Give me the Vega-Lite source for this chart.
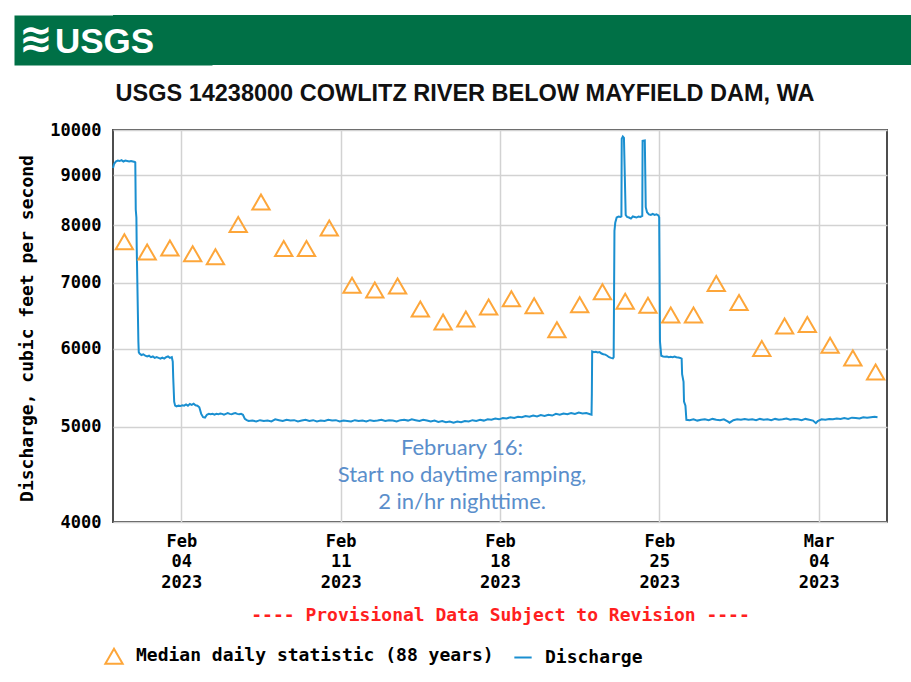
{
  "$schema": "https://vega.github.io/schema/vega-lite/v6.json",
  "background": "white",
  "padding": {"left": 16, "top": 15, "right": 0, "bottom": 0},
  "spacing": 15,
  "config": {
    "font": "DejaVu Sans Mono",
    "axis": {
      "labelFont": "DejaVu Sans Mono",
      "labelFontWeight": "bold",
      "labelColor": "#000000",
      "titleFont": "DejaVu Sans Mono",
      "titleFontWeight": "bold",
      "titleColor": "#000000",
      "gridColor": "#d2d2d2",
      "gridWidth": 1.5,
      "ticks": false,
      "domain": false,
      "labelFlush": false,
      "labelOverlap": false,
      "labelBound": false
    }
  },
  "datasets": {
    "q": [
      {"t": "2023-02-01T00:00", "v": 9150}, {"t": "2023-02-01T01:00", "v": 9230}, {"t": "2023-02-01T03:00", "v": 9290},
      {"t": "2023-02-01T05:00", "v": 9310}, {"t": "2023-02-01T07:00", "v": 9300}, {"t": "2023-02-01T09:00", "v": 9320},
      {"t": "2023-02-01T11:00", "v": 9290}, {"t": "2023-02-01T13:00", "v": 9310}, {"t": "2023-02-01T15:00", "v": 9300},
      {"t": "2023-02-01T17:00", "v": 9290}, {"t": "2023-02-01T19:00", "v": 9300}, {"t": "2023-02-01T21:00", "v": 9290},
      {"t": "2023-02-01T23:00", "v": 9280}, {"t": "2023-02-01T23:30", "v": 9270},
      {"t": "2023-02-02T00:00", "v": 8300}, {"t": "2023-02-02T00:40", "v": 8150}, {"t": "2023-02-02T01:00", "v": 7600},
      {"t": "2023-02-02T01:40", "v": 7000}, {"t": "2023-02-02T02:15", "v": 6500}, {"t": "2023-02-02T02:45", "v": 6100},
      {"t": "2023-02-02T03:10", "v": 5950}, {"t": "2023-02-02T04:00", "v": 5930}, {"t": "2023-02-02T06:00", "v": 5910},
      {"t": "2023-02-02T08:00", "v": 5920}, {"t": "2023-02-02T10:00", "v": 5900}, {"t": "2023-02-02T12:00", "v": 5890},
      {"t": "2023-02-02T14:00", "v": 5900}, {"t": "2023-02-02T16:00", "v": 5880}, {"t": "2023-02-02T18:00", "v": 5890},
      {"t": "2023-02-02T20:00", "v": 5870}, {"t": "2023-02-02T22:00", "v": 5880}, {"t": "2023-02-03T00:00", "v": 5870},
      {"t": "2023-02-03T02:00", "v": 5860}, {"t": "2023-02-03T04:00", "v": 5875}, {"t": "2023-02-03T06:00", "v": 5860},
      {"t": "2023-02-03T08:00", "v": 5880}, {"t": "2023-02-03T10:00", "v": 5890}, {"t": "2023-02-03T12:00", "v": 5870},
      {"t": "2023-02-03T14:00", "v": 5880}, {"t": "2023-02-03T15:00", "v": 5820}, {"t": "2023-02-03T15:30", "v": 5600},
      {"t": "2023-02-03T16:30", "v": 5300}, {"t": "2023-02-03T17:30", "v": 5250}, {"t": "2023-02-03T19:00", "v": 5240},
      {"t": "2023-02-03T21:00", "v": 5250}, {"t": "2023-02-03T23:00", "v": 5245}, {"t": "2023-02-04T01:00", "v": 5255},
      {"t": "2023-02-04T03:00", "v": 5250}, {"t": "2023-02-04T05:00", "v": 5265}, {"t": "2023-02-04T07:00", "v": 5250},
      {"t": "2023-02-04T09:00", "v": 5270}, {"t": "2023-02-04T11:00", "v": 5260}, {"t": "2023-02-04T13:00", "v": 5275},
      {"t": "2023-02-04T15:00", "v": 5255}, {"t": "2023-02-04T17:00", "v": 5250}, {"t": "2023-02-04T19:00", "v": 5230},
      {"t": "2023-02-04T21:00", "v": 5150}, {"t": "2023-02-04T23:00", "v": 5110}, {"t": "2023-02-05T01:00", "v": 5105},
      {"t": "2023-02-05T03:00", "v": 5140}, {"t": "2023-02-05T05:00", "v": 5150}, {"t": "2023-02-05T07:00", "v": 5145},
      {"t": "2023-02-05T09:00", "v": 5150}, {"t": "2023-02-05T11:00", "v": 5140}, {"t": "2023-02-05T13:00", "v": 5150},
      {"t": "2023-02-05T15:00", "v": 5145}, {"t": "2023-02-05T17:00", "v": 5155}, {"t": "2023-02-05T19:00", "v": 5150},
      {"t": "2023-02-05T21:00", "v": 5140}, {"t": "2023-02-05T23:00", "v": 5150}, {"t": "2023-02-06T01:00", "v": 5160},
      {"t": "2023-02-06T03:00", "v": 5150}, {"t": "2023-02-06T05:00", "v": 5145}, {"t": "2023-02-06T07:00", "v": 5155},
      {"t": "2023-02-06T09:00", "v": 5160}, {"t": "2023-02-06T11:00", "v": 5150}, {"t": "2023-02-06T13:00", "v": 5145},
      {"t": "2023-02-06T15:00", "v": 5150}, {"t": "2023-02-06T17:00", "v": 5140}, {"t": "2023-02-06T19:00", "v": 5090},
      {"t": "2023-02-06T21:00", "v": 5075}, {"t": "2023-02-06T23:00", "v": 5065}, {"t": "2023-02-07T03:00", "v": 5070},
      {"t": "2023-02-07T07:00", "v": 5060}, {"t": "2023-02-07T11:00", "v": 5075}, {"t": "2023-02-07T15:00", "v": 5065},
      {"t": "2023-02-07T19:00", "v": 5070}, {"t": "2023-02-07T23:00", "v": 5060}, {"t": "2023-02-08T03:00", "v": 5085},
      {"t": "2023-02-08T07:00", "v": 5075}, {"t": "2023-02-08T11:00", "v": 5065}, {"t": "2023-02-08T15:00", "v": 5080},
      {"t": "2023-02-08T19:00", "v": 5070}, {"t": "2023-02-08T23:00", "v": 5075}, {"t": "2023-02-09T03:00", "v": 5060},
      {"t": "2023-02-09T07:00", "v": 5070}, {"t": "2023-02-09T11:00", "v": 5080}, {"t": "2023-02-09T15:00", "v": 5065},
      {"t": "2023-02-09T19:00", "v": 5075}, {"t": "2023-02-09T23:00", "v": 5060}, {"t": "2023-02-10T03:00", "v": 5070},
      {"t": "2023-02-10T07:00", "v": 5065}, {"t": "2023-02-10T11:00", "v": 5080}, {"t": "2023-02-10T15:00", "v": 5070},
      {"t": "2023-02-10T19:00", "v": 5075}, {"t": "2023-02-10T23:00", "v": 5060}, {"t": "2023-02-11T03:00", "v": 5070},
      {"t": "2023-02-11T07:00", "v": 5065}, {"t": "2023-02-11T11:00", "v": 5060}, {"t": "2023-02-11T15:00", "v": 5075},
      {"t": "2023-02-11T19:00", "v": 5065}, {"t": "2023-02-11T23:00", "v": 5070}, {"t": "2023-02-12T03:00", "v": 5060},
      {"t": "2023-02-12T07:00", "v": 5075}, {"t": "2023-02-12T11:00", "v": 5065}, {"t": "2023-02-12T15:00", "v": 5070},
      {"t": "2023-02-12T19:00", "v": 5080}, {"t": "2023-02-12T23:00", "v": 5065}, {"t": "2023-02-13T03:00", "v": 5075},
      {"t": "2023-02-13T07:00", "v": 5070}, {"t": "2023-02-13T11:00", "v": 5060}, {"t": "2023-02-13T15:00", "v": 5075},
      {"t": "2023-02-13T19:00", "v": 5080}, {"t": "2023-02-13T23:00", "v": 5070}, {"t": "2023-02-14T03:00", "v": 5085},
      {"t": "2023-02-14T07:00", "v": 5075}, {"t": "2023-02-14T11:00", "v": 5065}, {"t": "2023-02-14T15:00", "v": 5080},
      {"t": "2023-02-14T19:00", "v": 5070}, {"t": "2023-02-14T23:00", "v": 5060}, {"t": "2023-02-15T03:00", "v": 5070},
      {"t": "2023-02-15T07:00", "v": 5055}, {"t": "2023-02-15T11:00", "v": 5065}, {"t": "2023-02-15T15:00", "v": 5050},
      {"t": "2023-02-15T19:00", "v": 5060}, {"t": "2023-02-15T23:00", "v": 5045}, {"t": "2023-02-16T03:00", "v": 5060},
      {"t": "2023-02-16T07:00", "v": 5050}, {"t": "2023-02-16T11:00", "v": 5065}, {"t": "2023-02-16T15:00", "v": 5060},
      {"t": "2023-02-16T19:00", "v": 5075}, {"t": "2023-02-16T23:00", "v": 5065}, {"t": "2023-02-17T03:00", "v": 5080},
      {"t": "2023-02-17T07:00", "v": 5070}, {"t": "2023-02-17T11:00", "v": 5085}, {"t": "2023-02-17T15:00", "v": 5080},
      {"t": "2023-02-17T19:00", "v": 5095}, {"t": "2023-02-17T23:00", "v": 5085}, {"t": "2023-02-18T03:00", "v": 5100},
      {"t": "2023-02-18T07:00", "v": 5095}, {"t": "2023-02-18T11:00", "v": 5110}, {"t": "2023-02-18T15:00", "v": 5100},
      {"t": "2023-02-18T19:00", "v": 5115}, {"t": "2023-02-18T23:00", "v": 5110}, {"t": "2023-02-19T03:00", "v": 5125},
      {"t": "2023-02-19T07:00", "v": 5115}, {"t": "2023-02-19T11:00", "v": 5130}, {"t": "2023-02-19T15:00", "v": 5120},
      {"t": "2023-02-19T19:00", "v": 5135}, {"t": "2023-02-19T23:00", "v": 5125}, {"t": "2023-02-20T03:00", "v": 5140},
      {"t": "2023-02-20T07:00", "v": 5130}, {"t": "2023-02-20T11:00", "v": 5150}, {"t": "2023-02-20T15:00", "v": 5140},
      {"t": "2023-02-20T19:00", "v": 5155}, {"t": "2023-02-20T23:00", "v": 5145}, {"t": "2023-02-21T03:00", "v": 5160},
      {"t": "2023-02-21T07:00", "v": 5150}, {"t": "2023-02-21T11:00", "v": 5165}, {"t": "2023-02-21T15:00", "v": 5155},
      {"t": "2023-02-21T19:00", "v": 5160}, {"t": "2023-02-21T23:00", "v": 5145}, {"t": "2023-02-22T00:30", "v": 5140},
      {"t": "2023-02-22T00:50", "v": 5400}, {"t": "2023-02-22T01:10", "v": 5960}, {"t": "2023-02-22T03:00", "v": 5950},
      {"t": "2023-02-22T05:00", "v": 5955}, {"t": "2023-02-22T07:00", "v": 5945}, {"t": "2023-02-22T09:00", "v": 5950},
      {"t": "2023-02-22T11:00", "v": 5930}, {"t": "2023-02-22T13:00", "v": 5920}, {"t": "2023-02-22T15:00", "v": 5915},
      {"t": "2023-02-22T17:00", "v": 5900}, {"t": "2023-02-22T19:00", "v": 5880}, {"t": "2023-02-22T21:00", "v": 5870},
      {"t": "2023-02-22T23:00", "v": 5865}, {"t": "2023-02-22T23:50", "v": 5880}, {"t": "2023-02-23T00:40", "v": 7900},
      {"t": "2023-02-23T01:30", "v": 8050}, {"t": "2023-02-23T03:00", "v": 8150}, {"t": "2023-02-23T05:00", "v": 8170},
      {"t": "2023-02-23T07:00", "v": 8160}, {"t": "2023-02-23T08:00", "v": 8170}, {"t": "2023-02-23T08:20", "v": 9800},
      {"t": "2023-02-23T09:30", "v": 9850}, {"t": "2023-02-23T10:40", "v": 9820}, {"t": "2023-02-23T11:20", "v": 9200},
      {"t": "2023-02-23T12:30", "v": 8200}, {"t": "2023-02-23T14:00", "v": 8160}, {"t": "2023-02-23T16:00", "v": 8150},
      {"t": "2023-02-23T18:00", "v": 8130}, {"t": "2023-02-23T20:00", "v": 8170}, {"t": "2023-02-23T22:00", "v": 8160},
      {"t": "2023-02-24T00:00", "v": 8150}, {"t": "2023-02-24T02:00", "v": 8170}, {"t": "2023-02-24T04:00", "v": 8160},
      {"t": "2023-02-24T06:00", "v": 8180}, {"t": "2023-02-24T06:20", "v": 9750}, {"t": "2023-02-24T08:40", "v": 9760},
      {"t": "2023-02-24T09:40", "v": 8350}, {"t": "2023-02-24T11:00", "v": 8250}, {"t": "2023-02-24T13:00", "v": 8210},
      {"t": "2023-02-24T15:00", "v": 8200}, {"t": "2023-02-24T17:00", "v": 8220}, {"t": "2023-02-24T19:00", "v": 8200},
      {"t": "2023-02-24T21:00", "v": 8210}, {"t": "2023-02-24T23:00", "v": 8190}, {"t": "2023-02-24T23:50", "v": 8150},
      {"t": "2023-02-25T00:40", "v": 6100}, {"t": "2023-02-25T02:00", "v": 5900}, {"t": "2023-02-25T04:00", "v": 5890},
      {"t": "2023-02-25T06:00", "v": 5885}, {"t": "2023-02-25T08:00", "v": 5890}, {"t": "2023-02-25T10:00", "v": 5880},
      {"t": "2023-02-25T12:00", "v": 5885}, {"t": "2023-02-25T14:00", "v": 5880}, {"t": "2023-02-25T16:00", "v": 5890},
      {"t": "2023-02-25T18:00", "v": 5880}, {"t": "2023-02-25T20:00", "v": 5875}, {"t": "2023-02-25T22:00", "v": 5870},
      {"t": "2023-02-25T23:30", "v": 5860}, {"t": "2023-02-26T00:00", "v": 5650}, {"t": "2023-02-26T01:30", "v": 5550},
      {"t": "2023-02-26T02:00", "v": 5300}, {"t": "2023-02-26T03:30", "v": 5250}, {"t": "2023-02-26T04:30", "v": 5080},
      {"t": "2023-02-26T08:00", "v": 5075}, {"t": "2023-02-26T12:00", "v": 5085}, {"t": "2023-02-26T16:00", "v": 5070},
      {"t": "2023-02-26T20:00", "v": 5080}, {"t": "2023-02-27T00:00", "v": 5085}, {"t": "2023-02-27T04:00", "v": 5075},
      {"t": "2023-02-27T08:00", "v": 5090}, {"t": "2023-02-27T12:00", "v": 5080}, {"t": "2023-02-27T16:00", "v": 5075},
      {"t": "2023-02-27T20:00", "v": 5085}, {"t": "2023-02-28T00:00", "v": 5060}, {"t": "2023-02-28T02:00", "v": 5045},
      {"t": "2023-02-28T06:00", "v": 5075}, {"t": "2023-02-28T10:00", "v": 5085}, {"t": "2023-02-28T14:00", "v": 5080},
      {"t": "2023-02-28T18:00", "v": 5090}, {"t": "2023-02-28T22:00", "v": 5080}, {"t": "2023-03-01T02:00", "v": 5085},
      {"t": "2023-03-01T06:00", "v": 5075}, {"t": "2023-03-01T10:00", "v": 5090}, {"t": "2023-03-01T14:00", "v": 5080},
      {"t": "2023-03-01T18:00", "v": 5085}, {"t": "2023-03-01T22:00", "v": 5075}, {"t": "2023-03-02T02:00", "v": 5090},
      {"t": "2023-03-02T06:00", "v": 5080}, {"t": "2023-03-02T10:00", "v": 5085}, {"t": "2023-03-02T14:00", "v": 5095},
      {"t": "2023-03-02T18:00", "v": 5080}, {"t": "2023-03-02T22:00", "v": 5090}, {"t": "2023-03-03T02:00", "v": 5085},
      {"t": "2023-03-03T06:00", "v": 5075}, {"t": "2023-03-03T10:00", "v": 5090}, {"t": "2023-03-03T14:00", "v": 5080},
      {"t": "2023-03-03T18:00", "v": 5070}, {"t": "2023-03-03T21:00", "v": 5040}, {"t": "2023-03-03T23:00", "v": 5065},
      {"t": "2023-03-04T03:00", "v": 5085}, {"t": "2023-03-04T07:00", "v": 5080}, {"t": "2023-03-04T11:00", "v": 5090},
      {"t": "2023-03-04T15:00", "v": 5085}, {"t": "2023-03-04T19:00", "v": 5095}, {"t": "2023-03-04T23:00", "v": 5090},
      {"t": "2023-03-05T03:00", "v": 5100}, {"t": "2023-03-05T07:00", "v": 5090}, {"t": "2023-03-05T11:00", "v": 5105},
      {"t": "2023-03-05T15:00", "v": 5100}, {"t": "2023-03-05T19:00", "v": 5095}, {"t": "2023-03-05T23:00", "v": 5110},
      {"t": "2023-03-06T03:00", "v": 5105}, {"t": "2023-03-06T07:00", "v": 5110}, {"t": "2023-03-06T11:00", "v": 5115},
      {"t": "2023-03-06T14:00", "v": 5110}
    ],
    "med": [
      {"t": "2023-02-01T12:00", "v": 7700}, {"t": "2023-02-02T12:00", "v": 7520}, {"t": "2023-02-03T12:00", "v": 7590},
      {"t": "2023-02-04T12:00", "v": 7490}, {"t": "2023-02-05T12:00", "v": 7435}, {"t": "2023-02-06T12:00", "v": 8020},
      {"t": "2023-02-07T12:00", "v": 8450}, {"t": "2023-02-08T12:00", "v": 7580}, {"t": "2023-02-09T12:00", "v": 7580},
      {"t": "2023-02-10T12:00", "v": 7955}, {"t": "2023-02-11T12:00", "v": 6955}, {"t": "2023-02-12T12:00", "v": 6880},
      {"t": "2023-02-13T12:00", "v": 6945}, {"t": "2023-02-14T12:00", "v": 6580}, {"t": "2023-02-15T12:00", "v": 6385},
      {"t": "2023-02-16T12:00", "v": 6430}, {"t": "2023-02-17T12:00", "v": 6610}, {"t": "2023-02-18T12:00", "v": 6740},
      {"t": "2023-02-19T12:00", "v": 6630}, {"t": "2023-02-20T12:00", "v": 6270}, {"t": "2023-02-21T12:00", "v": 6645},
      {"t": "2023-02-22T12:00", "v": 6850}, {"t": "2023-02-23T12:00", "v": 6700}, {"t": "2023-02-24T12:00", "v": 6640},
      {"t": "2023-02-25T12:00", "v": 6490}, {"t": "2023-02-26T12:00", "v": 6490}, {"t": "2023-02-27T12:00", "v": 6985},
      {"t": "2023-02-28T12:00", "v": 6680}, {"t": "2023-03-01T12:00", "v": 6000}, {"t": "2023-03-02T12:00", "v": 6325},
      {"t": "2023-03-03T12:00", "v": 6345}, {"t": "2023-03-04T12:00", "v": 6045}, {"t": "2023-03-05T12:00", "v": 5870},
      {"t": "2023-03-06T12:00", "v": 5680}
    ],
    "note": [
      {"t": "2023-02-16T08:00", "v": 4454, "note": ["February 16:", "Start no daytime ramping,", "2 in/hr nighttime."]}
    ],
    "logo": [
      {"label": "USGS", "icon": "≋"}
    ]
  },
  "vconcat": [
    {
      "width": 798,
      "height": 50,
      "view": {"fill": "#007046", "stroke": null},
      "data": {"name": "logo"},
      "encoding": {
        "y": {
          "field": "label",
          "type": "nominal",
          "axis": {
            "labels": false,
            "ticks": false,
            "grid": false,
            "title": null,
            "domain": true,
            "domainColor": "#007046",
            "domainWidth": 198,
            "domainCap": "butt",
            "zindex": 0
          }
        }
      },
      "layer": [
        {
          "mark": {"type": "text", "font": "DejaVu Sans", "fontWeight": "bold", "fontSize": 40, "color": "white", "align": "center", "baseline": "middle", "dx": -476, "dy": 0},
          "encoding": {"text": {"field": "icon", "type": "nominal"}}
        },
        {
          "mark": {"type": "text", "font": "Liberation Sans", "fontWeight": "bold", "fontSize": 35, "color": "white", "align": "left", "baseline": "middle", "dx": -457, "dy": 2},
          "encoding": {"text": {"field": "label", "type": "nominal"}}
        }
      ]
    },
    {
      "width": 774,
      "height": 392,
      "view": {"stroke": "#4d4d4d", "strokeWidth": 2},
      "title": {
        "text": "USGS 14238000 COWLITZ RIVER BELOW MAYFIELD DAM, WA",
        "font": "Liberation Sans",
        "fontSize": 23.5,
        "fontWeight": "bold",
        "color": "#111111",
        "anchor": "middle",
        "frame": "group",
        "dx": -35,
        "baseline": "alphabetic",
        "offset": -3
      },
      "encoding": {
        "x": {
          "field": "t",
          "type": "temporal",
          "scale": {"domain": [{"year": 2023, "month": 2, "date": 1}, {"year": 2023, "month": 3, "date": 7}]},
          "axis": {
            "values": [
              {"year": 2023, "month": 2, "date": 4},
              {"year": 2023, "month": 2, "date": 11},
              {"year": 2023, "month": 2, "date": 18},
              {"year": 2023, "month": 2, "date": 25},
              {"year": 2023, "month": 3, "date": 4}
            ],
            "labelExpr": "[timeFormat(datum.value, '%b'), timeFormat(datum.value, '%d'), timeFormat(datum.value, '%Y')]",
            "labelFontSize": 17,
            "labelLineHeight": 20.5,
            "labelBaseline": "top",
            "labelPadding": 11,
            "title": "---- Provisional Data Subject to Revision ----",
            "titleColor": "#ff1f1f",
            "titleFontSize": 18,
            "titleBaseline": "middle",
            "titleY": 93
          }
        },
        "y": {
          "field": "v",
          "type": "quantitative",
          "scale": {"type": "log", "domain": [4000, 10000], "nice": false},
          "axis": {
            "values": [4000, 5000, 6000, 7000, 8000, 9000, 10000],
            "format": "d",
            "labelFontSize": 17,
            "labelPadding": 12,
            "title": "Discharge, cubic feet per second",
            "titleFontSize": 18,
            "titleX": -86,
            "titleY": 198,
            "titleAngle": -90,
            "titleAlign": "center",
            "titleBaseline": "middle"
          }
        }
      },
      "layer": [
        {
          "data": {"name": "q"},
          "mark": {"type": "line", "strokeWidth": 2, "interpolate": "linear"},
          "encoding": {
            "color": {
              "datum": "Discharge",
              "scale": {"domain": ["Median daily statistic (88 years)", "Discharge"], "range": ["#fda63a", "#1a8fd0"]},
              "legend": {
                "title": null,
                "orient": "none",
                "legendX": -9,
                "legendY": 631,
                "direction": "horizontal",
                "columns": 2,
                "columnPadding": 16,
                "labelFont": "DejaVu Sans Mono",
                "labelFontWeight": "bold",
                "labelFontSize": 18,
                "labelColor": "#000000",
                "labelOffset": 12,
                "symbolSize": 300,
                "symbolStrokeWidth": 2,
                "labelLimit": 500
              }
            }
          }
        },
        {
          "data": {"name": "med"},
          "mark": {"type": "point", "filled": false, "strokeWidth": 2, "size": 300, "opacity": 1},
          "encoding": {
            "color": {"datum": "Median daily statistic (88 years)"},
            "shape": {
              "datum": "Median daily statistic (88 years)",
              "scale": {"domain": ["Median daily statistic (88 years)", "Discharge"], "range": ["triangle-up", "stroke"]}
            }
          }
        },
        {
          "data": {"name": "note"},
          "mark": {"type": "text", "font": "Lato", "fontSize": 22, "color": "#5a8ecb", "lineHeight": 27, "align": "center", "baseline": "middle", "dy": -28},
          "encoding": {"text": {"field": "note", "type": "nominal"}}
        }
      ]
    }
  ]
}
